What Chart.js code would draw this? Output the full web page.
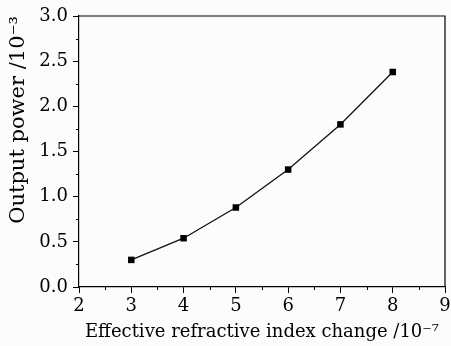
<!DOCTYPE html>
<html>
<head>
<meta charset="utf-8">
<script src="https://cdn.jsdelivr.net/npm/chart.js@4"></script>
<style>
  html, body { margin: 0; padding: 0; background: #fcfcfc; }
  #wrap { width: 451px; height: 346px; position: relative; }
</style>
</head>
<body>
<div id="wrap"><canvas id="chart"></canvas></div>
<script>
// values
const indexChange = [3, 4, 5, 6, 7, 8];
const outputPower = [0.30, 0.54, 0.88, 1.30, 1.80, 2.38];

const xTitle = 'Effective refractive index change /10\u207B\u2077';
const yTitle = 'Output power /10\u207B\u00B3';

const fontFamily = '"DejaVu Serif", "Liberation Serif", serif';

// minor ticks + top/right frame
const framePlugin = {
    id: 'frame',
    afterDraw(chart) {
        const ctx = chart.ctx;
        const area = chart.chartArea;
        const x = chart.scales.x;
        const y = chart.scales.y;
        ctx.save();
        ctx.strokeStyle = '#000';
        ctx.lineWidth = 1.2;
        ctx.beginPath();
        ctx.moveTo(area.left, area.top);
        ctx.lineTo(area.right, area.top);
        ctx.lineTo(area.right, area.bottom);
        ctx.stroke();

        ctx.lineWidth = 1;
        ctx.beginPath();
        for (let v = x.min + 0.5; v < x.max; v += 1) {
            const px = Math.round(x.getPixelForValue(v)) + 0.5;
            ctx.moveTo(px, area.bottom);
            ctx.lineTo(px, area.bottom + 3);
        }
        for (let v = y.min + 0.25; v < y.max; v += 0.5) {
            const py = Math.round(y.getPixelForValue(v)) + 0.5;
            ctx.moveTo(area.left, py);
            ctx.lineTo(area.left - 3, py);
        }
        ctx.stroke();
        ctx.restore();
    }
};

new Chart(document.getElementById('chart'), {
    type: 'line',
    data: {
        datasets: [{
            data: indexChange.map((v, i) => ({ x: v, y: outputPower[i] })),
            borderColor: '#111',
            borderWidth: 1.3,
            backgroundColor: '#000',
            pointStyle: 'rect',
            pointRadius: 4.6,
            pointBorderWidth: 0,
            tension: 0
        }]
    },
    options: {
        responsive: true,
        maintainAspectRatio: false,
        animation: false,
        layout: { padding: { top: 16, right: 6, left: 6, bottom: 0 } },
        plugins: { legend: { display: false }, tooltip: { enabled: false } },
        scales: {
            x: {
                type: 'linear',
                min: 2,
                max: 9,
                afterFit(scale) {
                    scale.height = 59;
                    scale.paddingRight = 0;
                    scale.paddingLeft = 0;
                },
                ticks: {
                    stepSize: 1,
                    color: '#000',
                    padding: 3,
                    font: { family: fontFamily, size: 18 }
                },
                grid: { drawOnChartArea: false, tickLength: 6, tickColor: '#000', tickWidth: 1 },
                border: { color: '#000', width: 1.2 },
                title: {
                    display: true,
                    text: xTitle,
                    color: '#000',
                    padding: { top: 0, bottom: 3 },
                    font: { family: fontFamily, size: 18 }
                }
            },
            y: {
                min: 0,
                max: 3,
                afterFit(scale) { scale.width = 73; },
                ticks: {
                    stepSize: 0.5,
                    color: '#000',
                    padding: 5,
                    callback: v => v.toFixed(1),
                    font: { family: fontFamily, size: 18 }
                },
                grid: { drawOnChartArea: false, tickLength: 6, tickColor: '#000', tickWidth: 1 },
                border: { color: '#000', width: 1.2 },
                title: {
                    display: true,
                    text: yTitle,
                    align: 'end',
                    color: '#000',
                    padding: { top: 0, bottom: 4 },
                    font: { family: fontFamily, size: 21 }
                }
            }
        }
    },
    plugins: [framePlugin]
});
</script>
</body>
</html>
